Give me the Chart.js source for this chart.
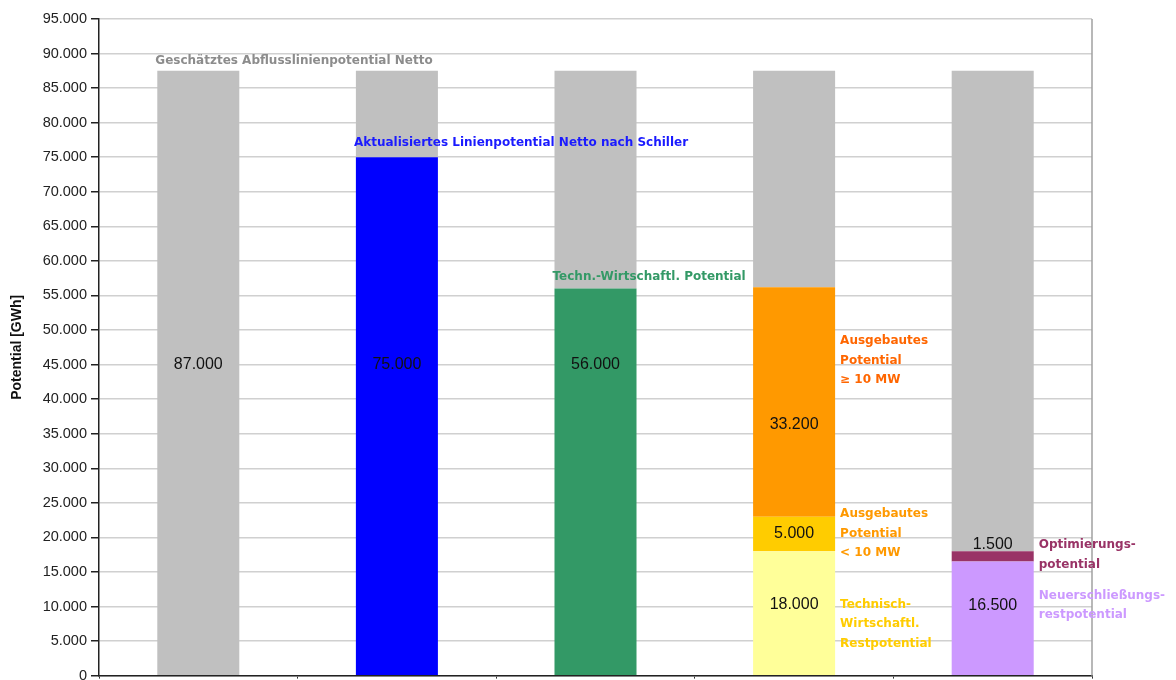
<!DOCTYPE html>
<html lang="de">
<head>
    <meta charset="UTF-8">
    <title>Potential [GWh]</title>
    <script src="https://cdn.jsdelivr.net/npm/chart.js@4.4.3/dist/chart.umd.min.js"></script>
    <style>
        html, body { margin: 0; padding: 0; background: #fff; }
        #wrap { width: 1176px; height: 680px; }
    </style>
</head>
<body>
    <div id="wrap"><canvas id="potChart"></canvas></div>
    <script>
        // Säulen (keine Achsenbeschriftung im Original)
        const categories = ['Abfluss', 'Linie', 'TechWirt', 'Ausgebaut', 'Rest'];

        // Werte in GWh, von unten nach oben gestapelt
        const linienpotential = [null, 75000, null, null, null];
        const techWirtPotential = [null, null, 56000, null, null];
        const restpotential = [null, null, null, 18000, null];
        const neuerschliessung = [null, null, null, null, 16500];
        const ausgebautKlein = [null, null, null, 5000, null];
        const optimierung = [null, null, null, null, 1500];
        const ausgebautGross = [null, null, null, 33200, null];
        const abflussRest = [87500, 12500, 31500, 31300, 69500];

        const yTicks = [0, 5000, 10000, 15000, 20000, 25000, 30000, 35000, 40000, 45000,
            50000, 55000, 60000, 65000, 70000, 75000, 80000, 85000, 90000, 95000];

        // Zahlen in den Säulen: [Säule, Text, Höhe in GWh]
        const valueLabels = [
            [0, '87.000', 45000],
            [1, '75.000', 45000],
            [2, '56.000', 45000],
            [3, '33.200', 36300],
            [3, '5.000', 20500],
            [3, '18.000', 10300],
            [4, '16.500', 10100],
            [4, '1.500', 18900]
        ];

        // Beschriftungen: [Säule, Seite, Zeilen, Farbe, Höhe der ersten Zeile]
        const notes = [
            [0, 'left', ['Geschätztes Abflusslinienpotential Netto'], '#8c8c8c', 89000],
            [1, 'left', ['Aktualisiertes Linienpotential Netto nach Schiller'], '#1a1aff', 77100],
            [2, 'left', ['Techn.-Wirtschaftl. Potential'], '#339966', 57700],
            [3, 'right', ['Ausgebautes', 'Potential', '≥ 10 MW'], '#ff6600', 48400],
            [3, 'right', ['Ausgebautes', 'Potential', '< 10 MW'], '#ff9900', 23350],
            [3, 'right', ['Technisch-', 'Wirtschaftl.', 'Restpotential'], '#ffcc00', 10250],
            [4, 'right', ['Optimierungs-', 'potential'], '#993366', 18900],
            [4, 'right', ['Neuerschließungs-', 'restpotential'], '#cc99ff', 11550]
        ];

        const font = '"Liberation Sans", Arial, sans-serif';
        const noteFont = '"DejaVu Sans", Verdana, sans-serif';

        const labelPlugin = {
            id: 'labelPlugin',
            afterDatasetsDraw(chart) {
                const c = chart.ctx;
                const y = chart.scales.y;
                const meta = chart.getDatasetMeta(chart.data.datasets.length - 1);
                const area = chart.chartArea;

                // rechter Rahmen
                c.save();
                c.strokeStyle = '#a0a0a0';
                c.lineWidth = 1.5;
                c.beginPath();
                c.moveTo(area.right, area.top);
                c.lineTo(area.right, area.bottom);
                c.stroke();

                c.fillStyle = '#111';
                c.font = '16px ' + font;
                c.textAlign = 'center';
                c.textBaseline = 'middle';
                valueLabels.forEach(([i, txt, v]) => {
                    c.fillText(txt, meta.data[i].x, y.getPixelForValue(v));
                });

                c.font = 'bold 12px ' + noteFont;
                c.textAlign = 'left';
                notes.forEach(([i, side, lines, color, v]) => {
                    const bar = meta.data[i];
                    const x = side === 'left' ? bar.x - bar.width / 2 - 2 : bar.x + bar.width / 2 + 5;
                    const y0 = y.getPixelForValue(v);
                    c.fillStyle = color;
                    lines.forEach((ln, k) => c.fillText(ln, x, y0 + k * 19.5));
                });
                c.restore();
            }
        };

        const ds = (label, data, color) => ({
            label: label,
            data: data,
            backgroundColor: color,
            borderWidth: 0,
            barPercentage: 0.413,
            categoryPercentage: 1.0
        });

        new Chart(document.getElementById('potChart'), {
            type: 'bar',
            data: {
                labels: categories,
                datasets: [
                    ds('Linienpotential', linienpotential, '#0000ff'),
                    ds('Techn.-Wirtschaftl. Potential', techWirtPotential, '#339966'),
                    ds('Restpotential', restpotential, '#ffff99'),
                    ds('Neuerschließungsrestpotential', neuerschliessung, '#cc99ff'),
                    ds('Ausgebaut < 10 MW', ausgebautKlein, '#ffcc00'),
                    ds('Optimierungspotential', optimierung, '#993366'),
                    ds('Ausgebaut ≥ 10 MW', ausgebautGross, '#ff9900'),
                    ds('Abflusslinienpotential', abflussRest, '#c0c0c0')
                ]
            },
            options: {
                responsive: true,
                maintainAspectRatio: false,
                animation: false,
                layout: { padding: { left: 7, right: 84, top: 19, bottom: -5 } },
                plugins: {
                    legend: { display: false },
                    tooltip: { enabled: false }
                },
                scales: {
                    x: {
                        stacked: true,
                        ticks: { display: false },
                        afterFit: (s) => { s.height = 3; },
                        grid: {
                            offset: true,
                            drawOnChartArea: false,
                            tickLength: 3,
                            color: '#333'
                        },
                        border: { color: '#222', width: 1.5 }
                    },
                    y: {
                        stacked: true,
                        min: 0,
                        max: 95000,
                        afterBuildTicks: (s) => { s.ticks = yTicks.map(v => ({ value: v })); },
                        afterFit: (s) => { s.width = 92; },
                        ticks: {
                            padding: 4,
                            color: '#222',
                            font: { family: font, size: 14.5, lineHeight: 0.05 },
                            callback: (v) => v.toLocaleString('de-DE')
                        },
                        grid: {
                            color: '#d0d0d0',
                            lineWidth: 1.5,
                            tickLength: 8,
                            tickColor: '#222'
                        },
                        border: { color: '#222', width: 1.5 },
                        title: {
                            display: true,
                            text: 'Potential [GWh]',
                            color: '#111',
                            font: { family: font, size: 14, weight: 'bold' },
                            padding: { top: 2, bottom: 4 }
                        }
                    }
                }
            },
            plugins: [labelPlugin]
        });
    </script>
</body>
</html>
